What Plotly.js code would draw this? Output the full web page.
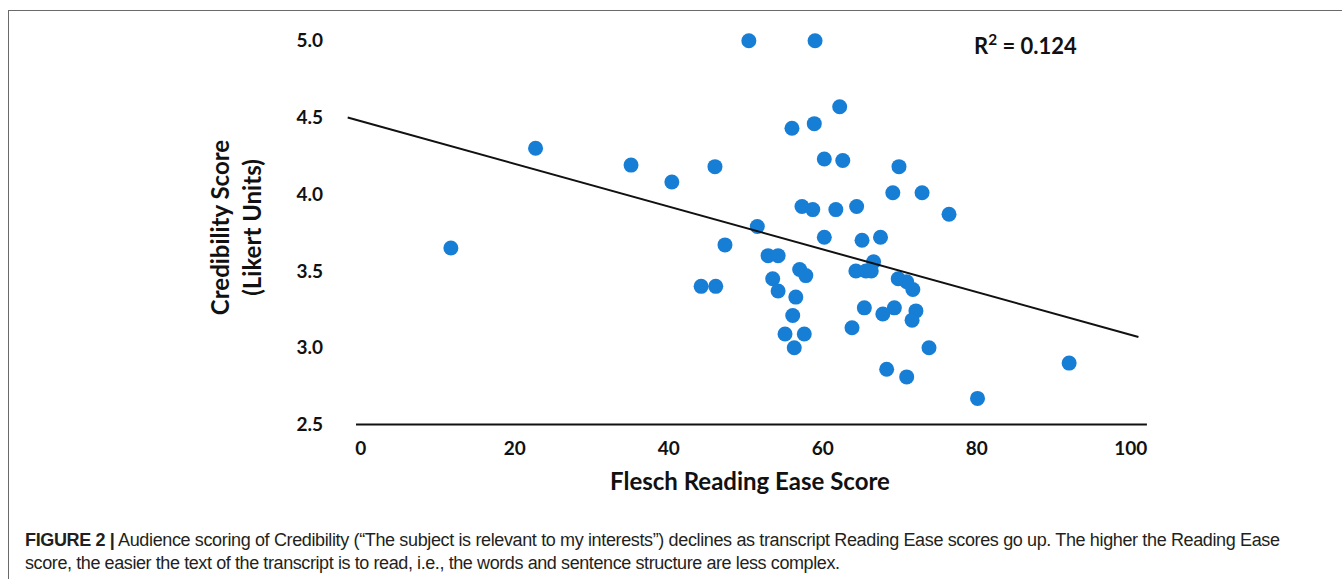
<!DOCTYPE html>
<html>
<head>
<meta charset="utf-8">
<script src="https://cdn.plot.ly/plotly-3.0.1.min.js"></script>
<style>
  html, body { margin: 0; padding: 0; background: #fff; }
  #wrap { position: relative; width: 1342px; height: 579px; overflow: hidden; }
  #chart { position: absolute; left: 0; top: 0; width: 1342px; height: 579px; }
  #frame { position: absolute; left: 8px; top: 10px; width: 1334px; height: 569px;
           border-left: 1px solid #6a6a6a; border-top: 1px solid #6a6a6a; pointer-events: none; }
  #caption { position: absolute; left: 25px; top: 529px; font-family: 'Liberation Sans Narrow', 'Liberation Sans', sans-serif;
             font-size: 18px; color: #231f20; white-space: nowrap; }
  #caption div.line { line-height: 23px; }
</style>
</head>
<body>
<div id="wrap">
  <div id="chart"></div>
  <div id="frame"></div>
  <div id="caption">
    <div class="line" id="cap1"><b>FIGURE 2 |</b> Audience scoring of Credibility (“The subject is relevant to my interests”) declines as transcript Reading Ease scores go up. The higher the Reading Ease</div>
    <div class="line" id="cap2">score, the easier the text of the transcript is to read, i.e., the words and sentence structure are less complex.</div>
  </div>
</div>
<script>
// Flesch Reading Ease score of each transcript
const readingEase = [
  11.7, 22.7, 35.1, 40.4, 46.0, 44.2, 46.1, 47.3, 50.4, 59.0,
  62.2, 56.0, 58.9, 60.2, 62.6, 69.9, 69.1, 72.9, 57.3, 58.7,
  61.7, 64.4, 76.4, 51.5, 60.2, 65.1, 67.5, 52.9, 54.2, 66.6,
  57.0, 57.8, 64.3, 65.6, 66.3, 53.5, 69.8, 70.9, 71.7, 54.2,
  56.5, 65.4, 69.3, 67.8, 72.1, 71.6, 56.1, 63.8, 55.1, 57.6,
  56.3, 73.8, 68.3, 70.9, 80.1, 92.0
];
// Credibility score (Likert units)
const credibility = [
  3.65, 4.30, 4.19, 4.08, 4.18, 3.40, 3.40, 3.67, 5.00, 5.00,
  4.57, 4.43, 4.46, 4.23, 4.22, 4.18, 4.01, 4.01, 3.92, 3.90,
  3.90, 3.92, 3.87, 3.79, 3.72, 3.70, 3.72, 3.60, 3.60, 3.56,
  3.51, 3.47, 3.50, 3.50, 3.50, 3.45, 3.45, 3.43, 3.38, 3.37,
  3.33, 3.26, 3.26, 3.22, 3.24, 3.18, 3.21, 3.13, 3.09, 3.09,
  3.00, 3.00, 2.86, 2.81, 2.67, 2.90
];
// Linear trend line end points
const trendX = [-1.7, 101.0];
const trendY = [4.50, 3.07];
const xTickVals = [0, 20, 40, 60, 80, 100];
const xTickText = ['0', '20', '40', '60', '80', '100'];
const yTickVals = [2.5, 3.0, 3.5, 4.0, 4.5, 5.0];
const yTickText = ['2.5', '3.0', '3.5', '4.0', '4.5', '5.0'];
const rSquaredText = 'R<sup>2</sup> = 0.124';

const tickFont = { family: 'Lato, "Open Sans", sans-serif', size: 19, color: '#111', weight: 'bold' };
const titleFont = { family: 'Lato, "Open Sans", sans-serif', size: 24, color: '#111', weight: 'bold' };

const data = [
  {
    x: readingEase, y: credibility, type: 'scatter', mode: 'markers',
    marker: { color: '#177ed6', size: 15, line: { width: 0 } },
    cliponaxis: false, hoverinfo: 'x+y', showlegend: false
  },
  {
    x: trendX, y: trendY, type: 'scatter', mode: 'lines',
    line: { color: '#111', width: 2 }, hoverinfo: 'skip', showlegend: false
  }
];

const layout = {
  width: 1342, height: 579,
  margin: { l: 340, r: 182, t: 15, b: 139 },
  paper_bgcolor: '#fff', plot_bgcolor: '#fff',
  showlegend: false,
  xaxis: {
    range: [-2.7, 103.8], tickvals: xTickVals, ticktext: xTickText,
    showgrid: false, zeroline: false, showline: false, ticks: '',
    tickfont: tickFont, ticklabelstandoff: -5,
    title: { text: 'Flesch Reading Ease Score', font: titleFont, standoff: 15 }
  },
  yaxis: {
    range: [2.399, 5.168], tickvals: yTickVals, ticktext: yTickText,
    showgrid: false, zeroline: false, showline: false, ticks: '',
    tickfont: tickFont, ticklabelstandoff: 16,
    title: { text: 'Credibility Score<br>(Likert Units)', font: titleFont, standoff: 28 }
  },
  shapes: [
    { type: 'line', xref: 'x', yref: 'y', x0: -0.62, x1: 102.1, y0: 2.5, y1: 2.5,
      line: { color: '#111', width: 2 } }
  ],
  annotations: [
    { xref: 'x', yref: 'y', x: 86.3, y: 4.976, text: rSquaredText, showarrow: false,
      font: { family: 'Lato, "Open Sans", sans-serif', size: 22, color: '#111', weight: 'bold' },
      xanchor: 'center', yanchor: 'middle' }
  ]
};

Plotly.newPlot('chart', data, layout, { staticPlot: true, displayModeBar: false });

// fit caption lines to the reference widths
function fitLine(id, target) {
  const el = document.getElementById(id);
  el.style.letterSpacing = '0px';
  el.style.display = 'inline-block';
  const w = el.getBoundingClientRect().width;
  const n = el.textContent.length;
  el.style.letterSpacing = ((target - w) / (n - 1)) + 'px';
  el.style.display = 'block';
}
fitLine('cap1', 1255);
fitLine('cap2', 815);
</script>
</body>
</html>
